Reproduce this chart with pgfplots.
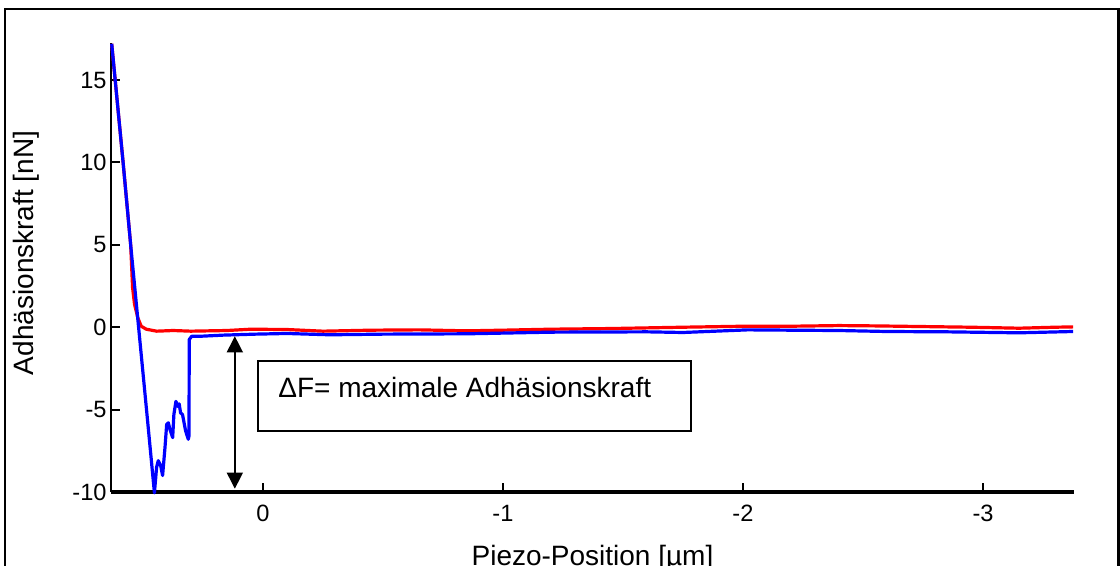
\documentclass[border=0pt]{standalone}
\usepackage{fontspec}
\setmainfont{Liberation Sans}
\usepackage{pgfplots}
\pgfplotsset{compat=1.18}
\usetikzlibrary{arrows.meta}

\begin{document}
\begin{tikzpicture}[x=1pt,y=1pt]
\useasboundingbox (0,0) rectangle (560,283);
\begin{axis}[
    at={(55.5pt,37pt)}, anchor=south west,
    width=481.5pt, height=224.5pt, scale only axis,
    x dir=reverse,
    xmin=-3.379, xmax=0.633,
    ymin=-10, ymax=17.25,
    axis x line*=bottom, axis y line*=left,
    x axis line style={line width=2pt,-},
    y axis line style={line width=1.2pt,-},
    xtick={-3,-2,-1,0}, xticklabels={-3,-2,-1,0},
    ytick={-10,-5,0,5,10,15}, yticklabels={-10,-5,0,5,10,15},
    tick align=inside,
    major tick length=4.5pt,
    tick style={line width=1pt, black},
    ticklabel style={font=\fontsize{11.8}{13}\selectfont},
    xticklabel style={inner sep=0pt, yshift=-6.2pt},
    yticklabel style={inner sep=0pt, xshift=-2pt},
    clip=false,
]
% Annaeherung (rot)
\addplot[red, mark=none, line width=1.6pt, line join=round] coordinates {
    (0.630,17.2) (0.5825,10) (0.551,5) (0.543,2.4) (0.535,1.4) (0.521,0.56)
    (0.507,0.06) (0.486,-0.12) (0.443,-0.24) (0.374,-0.2) (0.3,-0.24)
    (0.15,-0.2) (0.05,-0.12) (-0.1,-0.14) (-0.25,-0.24) (-0.45,-0.18)
    (-0.65,-0.16) (-0.85,-0.22) (-1.0,-0.18) (-1.2,-0.12) (-1.45,-0.08)
    (-1.6,-0.04) (-1.75,0.0) (-2.0,0.06) (-2.2,0.06) (-2.4,0.1) (-2.55,0.08)
    (-2.75,0.04) (-2.95,0.0) (-3.15,-0.06) (-3.3,0.0) (-3.375,0.02)
};
% Rueckzug (blau)
\addplot[blue, mark=none, line width=1.6pt, line join=round] coordinates {
    (0.630,17.2) (0.5825,10) (0.551,5) (0.518,0) (0.485,-5) (0.452,-10.05)
    (0.443,-8.5) (0.436,-8.1) (0.426,-8.4) (0.418,-9.0) (0.408,-7.3)
    (0.401,-5.9) (0.394,-5.8) (0.3875,-6.2) (0.376,-6.7) (0.371,-5.3)
    (0.3625,-4.5) (0.355,-4.8) (0.349,-4.65) (0.343,-5.2) (0.335,-5.3)
    (0.322,-6.3) (0.311,-6.8) (0.308,-6.6) (0.307,-0.75) (0.297,-0.55)
    (0.2625,-0.55) (0.165,-0.48) (0.03,-0.42) (-0.1,-0.38) (-0.28,-0.46)
    (-0.5,-0.42) (-0.85,-0.4) (-1.2,-0.3) (-1.6,-0.28) (-1.75,-0.32)
    (-2.02,-0.16) (-2.2,-0.18) (-2.4,-0.2) (-2.6,-0.26) (-2.85,-0.28)
    (-3.15,-0.34) (-3.375,-0.26)
};
\draw[{Triangle[length=8pt,width=8pt]}-{Triangle[length=8pt,width=8pt]}, line width=0.7pt]
    (axis cs:0.117,-0.55) -- (axis cs:0.117,-9.8);
\end{axis}
% Rahmen
\draw[line width=1.25pt] (2.5,-20) -- (2.5,278.5) -- (559.2,278.5) -- (559.2,-20);
% Achsenbeschriftungen
\node[rotate=90, anchor=base, inner sep=0pt, font=\fontsize{14}{16}\selectfont]
    at (16.75,156.5) {Adhäsionskraft [nN]};
\node[anchor=north, inner sep=0pt, font=\fontsize{14}{16}\selectfont]
    at (296.25,10.5) {Piezo-Position [µm]};
% Textkasten
\draw[line width=0.85pt] (129,67.5) rectangle (345.5,102.5);
\node[anchor=base west, inner sep=0pt, font=\fontsize{14}{16}\selectfont]
    at (139,84) {ΔF= maximale Adhäsionskraft};
\end{tikzpicture}
\end{document}
